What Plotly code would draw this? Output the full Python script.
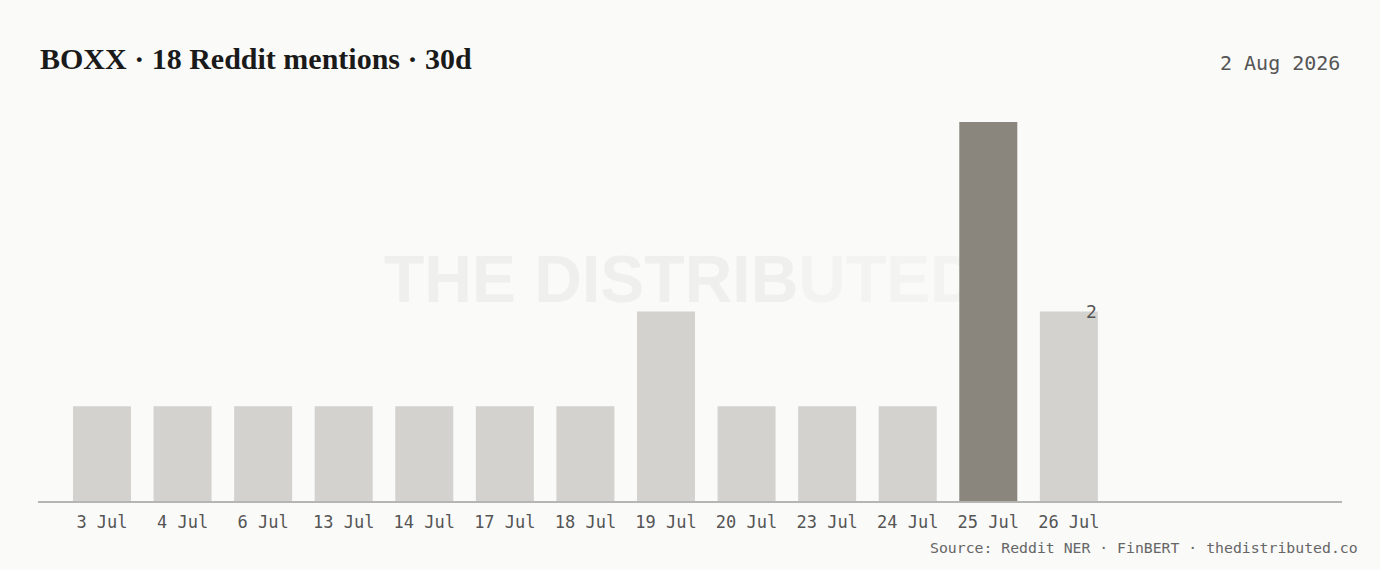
import plotly.graph_objects as go

categories = ["3 Jul", "4 Jul", "6 Jul", "13 Jul", "14 Jul", "17 Jul", "18 Jul",
              "19 Jul", "20 Jul", "23 Jul", "24 Jul", "25 Jul", "26 Jul"]
mentions = [1, 1, 1, 1, 1, 1, 1, 2, 1, 1, 1, 4, 2]
highlight_index = 11
title_text = "BOXX · 18 Reddit mentions · 30d"
date_text = "2 Aug 2026"
source_text = "Source: Reddit NER · FinBERT · thedistributed.co"
watermark_text = "THE DISTRIB<span style='color:#f3f3f2'>UTED</span>"

BG = "#fafaf9"
LIGHT = "#d3d2ce"
DARK = "#8a857d"
MONO = "DejaVu Sans Mono"

W, H = 1380, 570
ML, MR, MT, MB = 38, 38, 103, 69
plot_w = W - ML - MR
plot_h = H - MT - MB


def px(xp):
    return (xp - ML) / plot_w


def py(yp):
    return (H - MB - yp) / plot_h


xs = list(range(len(categories)))
colors = [DARK if i == highlight_index else LIGHT for i in xs]

fig = go.Figure()

# watermark on base (hidden) axes so that bars on the overlaying axes sit above it
fig.add_trace(go.Scatter(
    x=[px(681)], y=[py(285)], mode="text", text=[watermark_text],
    textfont=dict(family="Liberation Sans", size=66, color="#efefee", weight="bold"),
    hoverinfo="skip", showlegend=False, xaxis="x", yaxis="y",
))

fig.add_trace(go.Bar(
    x=xs, y=mentions, marker=dict(color=colors, line=dict(width=0)),
    width=0.72, showlegend=False, xaxis="x2", yaxis="y2", hoverinfo="skip",
))

last = len(categories) - 1
fig.add_annotation(
    x=last + 0.38, y=mentions[last], xref="x2", yref="y2", text=str(mentions[last]),
    showarrow=False, xanchor="right", yanchor="middle",
    font=dict(family=MONO, size=18, color="#555555"),
)

fig.update_layout(
    width=W, height=H,
    paper_bgcolor=BG, plot_bgcolor="rgba(0,0,0,0)",
    margin=dict(l=ML, r=MR, t=MT, b=MB),
    xaxis=dict(range=[0, 1], visible=False, fixedrange=True),
    yaxis=dict(range=[0, 1], visible=False, fixedrange=True),
    xaxis2=dict(
        overlaying="x", side="bottom", range=[-0.794, 15.39],
        tickmode="array", tickvals=xs, ticktext=categories,
        showgrid=False, zeroline=False, showline=True, linecolor="#b5b5b3", linewidth=1.5,
        ticks="", ticklabelstandoff=5,
        tickfont=dict(family=MONO, size=17, color="#555555"),
    ),
    yaxis2=dict(
        overlaying="y", range=[0, 4.2], visible=False, showgrid=False, zeroline=False,
    ),
)

fig.add_annotation(
    x=px(38), y=py(59), xref="paper", yref="paper", text=f"<b>{title_text}</b>",
    showarrow=False, xanchor="left", yanchor="middle",
    font=dict(family="Liberation Serif", size=30, color="#1a1a1a"),
)
fig.add_annotation(
    x=px(1342), y=py(63), xref="paper", yref="paper", text=date_text,
    showarrow=False, xanchor="right", yanchor="middle",
    font=dict(family=MONO, size=20, color="#555555"),
)
fig.add_annotation(
    x=px(1360), y=py(547), xref="paper", yref="paper", text=source_text,
    showarrow=False, xanchor="right", yanchor="middle",
    font=dict(family=MONO, size=14.8, color="#666666"),
)

fig.write_html(
    "out.html",
    config={"displayModeBar": False},
    post_script=("document.body.style.margin='0';"
                 "document.body.style.overflow='hidden';"
                 "document.body.style.background='#fafaf9';"),
)
